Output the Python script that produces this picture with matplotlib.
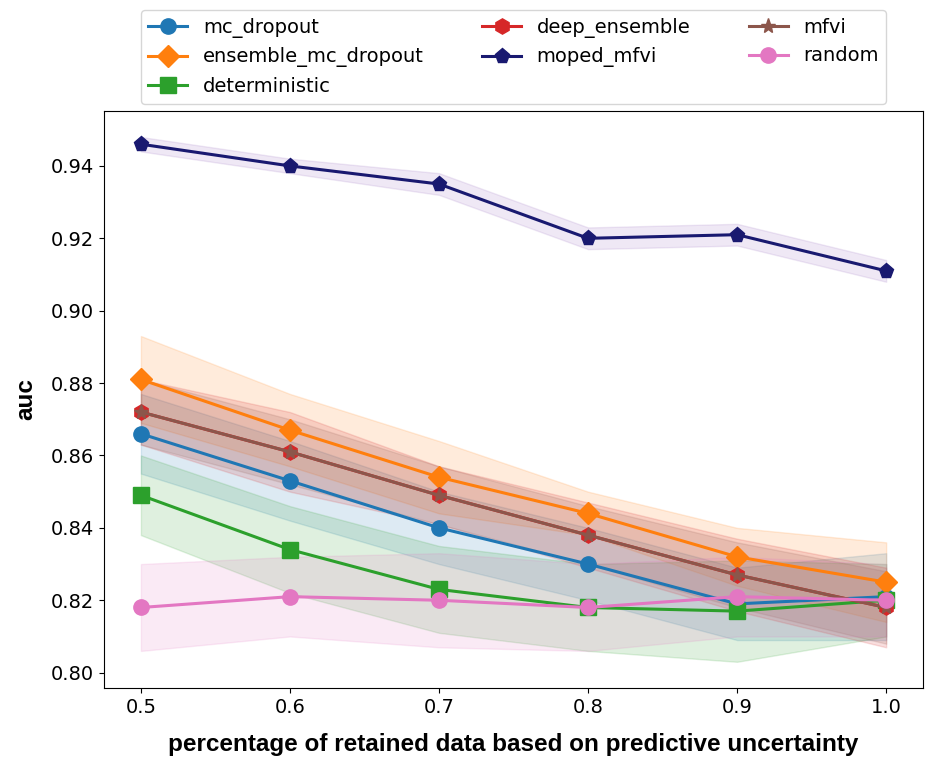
import numpy as np
import matplotlib
matplotlib.use('Agg')
import matplotlib.pyplot as plt

retained = [0.5, 0.6, 0.7, 0.8, 0.9, 1.0]

methods = ['mc_dropout', 'ensemble_mc_dropout', 'deterministic', 'deep_ensemble',
           'moped_mfvi', 'mfvi', 'random']

mc_dropout_mean = [0.866, 0.853, 0.840, 0.830, 0.819, 0.821]
mc_dropout_std = [0.011, 0.011, 0.010, 0.010, 0.010, 0.012]

ensemble_mc_dropout_mean = [0.881, 0.867, 0.854, 0.844, 0.832, 0.825]
ensemble_mc_dropout_std = [0.012, 0.010, 0.010, 0.006, 0.008, 0.011]

deterministic_mean = [0.849, 0.834, 0.823, 0.818, 0.817, 0.820]
deterministic_std = [0.011, 0.012, 0.012, 0.012, 0.014, 0.010]

deep_ensemble_mean = [0.872, 0.861, 0.849, 0.838, 0.827, 0.818]
deep_ensemble_std = [0.009, 0.011, 0.008, 0.009, 0.010, 0.011]

moped_mfvi_mean = [0.946, 0.940, 0.935, 0.920, 0.921, 0.911]
moped_mfvi_std = [0.002, 0.002, 0.003, 0.003, 0.003, 0.003]

mfvi_mean = [0.872, 0.861, 0.849, 0.838, 0.827, 0.818]
mfvi_std = [0.009, 0.009, 0.008, 0.008, 0.009, 0.010]

random_mean = [0.818, 0.821, 0.820, 0.818, 0.821, 0.820]
random_std = [0.012, 0.011, 0.013, 0.012, 0.011, 0.010]

means = [mc_dropout_mean, ensemble_mc_dropout_mean, deterministic_mean, deep_ensemble_mean,
         moped_mfvi_mean, mfvi_mean, random_mean]
stds = [mc_dropout_std, ensemble_mc_dropout_std, deterministic_std, deep_ensemble_std,
        moped_mfvi_std, mfvi_std, random_std]

colors = ['tab:blue', 'tab:orange', 'tab:green', 'tab:red', 'midnightblue', 'tab:brown', 'tab:pink']
band_colors = ['tab:blue', 'tab:orange', 'tab:green', 'tab:red', 'tab:purple', 'tab:brown', 'tab:pink']
markers = ['o', 'D', 's', 'h', 'p', '*', 'o']

fig = plt.figure(figsize=(9.51, 7.77), dpi=100)
ax = fig.add_axes([0.109, 0.1145, 0.862, 0.743])

x = np.array(retained)
for name, m, s, c, bc, mk in zip(methods, means, stds, colors, band_colors, markers):
    m = np.array(m)
    s = np.array(s)
    ax.plot(x, m, color=c, marker=mk, markersize=11, linewidth=2.2, label=name)
    ax.fill_between(x, m - s, m + s, color=bc, alpha=0.15)

ax.tick_params(labelsize=14)
ax.set_xlabel('percentage of retained data based on predictive uncertainty',
              fontsize=17.5, fontweight='bold', family='Liberation Sans', labelpad=12)
ax.set_ylabel('auc', fontsize=17.5, fontweight='bold', family='Liberation Sans', labelpad=10)

ax.legend(loc='lower center', bbox_to_anchor=(0.5, 0.995), ncol=3, fontsize=14,
          columnspacing=3.0, handlelength=2.0)

fig.savefig('out.png', dpi=100)
